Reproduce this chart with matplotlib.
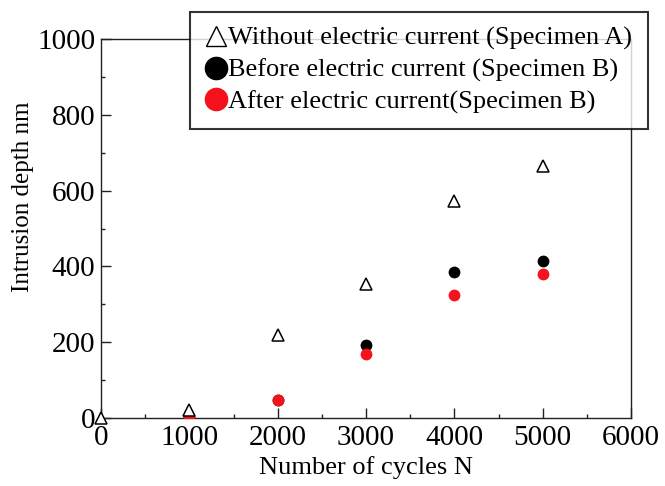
import matplotlib
matplotlib.use("Agg")
import matplotlib.pyplot as plt
from matplotlib.ticker import MultipleLocator
from matplotlib.lines import Line2D

plt.rcParams['font.family'] = ['Liberation Serif', 'DejaVu Serif']

# Data
cycles_a = [0, 1000, 2000, 3000, 4000, 5000]
depth_a = [0, 21, 218, 354, 572, 664]          # Without electric current (Specimen A)
cycles_b = [1000, 2000, 3000, 4000, 5000]
depth_before = [3, 47, 192, 385, 414]          # Before electric current (Specimen B)
depth_after = [3, 47, 170, 325, 381]           # After electric current (Specimen B)

labels = ["Without electric current (Specimen A)",
          "Before electric current (Specimen B)",
          "After electric current(Specimen B)"]
red = '#f5121c'

fig = plt.figure(figsize=(6.65, 4.86), dpi=100)
ax = fig.add_axes([101/665, 1-418/486, 530/665, 379/486])

ax.plot(cycles_b, depth_before, 'o', color='black', ms=8.5, mec='none', zorder=3)
ax.plot(cycles_b, depth_after, 'o', color=red, ms=8.5, mec='none', zorder=4)
ax.plot(cycles_a, depth_a, '^', mfc='white', mec='black', mew=1.1, ms=8, zorder=5, clip_on=False)

ax.set_xlim(0, 6000)
ax.set_ylim(0, 1000)
ax.xaxis.set_major_locator(MultipleLocator(1000))
ax.xaxis.set_minor_locator(MultipleLocator(500))
ax.yaxis.set_major_locator(MultipleLocator(200))
ax.yaxis.set_minor_locator(MultipleLocator(100))
ax.tick_params(which='both', direction='in', top=False, right=False,
               labelsize=21, width=1.0, color='#222222')
ax.tick_params(axis='x', which='major', length=7, pad=5)
ax.tick_params(axis='y', which='major', length=7, pad=4)
ax.tick_params(which='minor', length=3.2)
for s in ax.spines.values():
    s.set_linewidth(1.0)
    s.set_color('#222222')

ax.set_xlabel("Number of cycles N", fontsize=19, labelpad=4)
ax.set_ylabel("Intrusion depth nm", fontsize=18, va='center')
ax.yaxis.set_label_coords(-0.148, 0.585)

handles = [Line2D([], [], ls='none', marker='^', mfc='white', mec='black', mew=1.0, ms=15),
           Line2D([], [], ls='none', marker='o', color='black', ms=16),
           Line2D([], [], ls='none', marker='o', color=red, ms=16)]
leg = ax.legend(handles, labels, loc='upper left',
                bbox_to_anchor=(190/665, 1-129/486, 458/665, 117/486),
                bbox_transform=fig.transFigure, mode='expand',
                fontsize=19, frameon=True, fancybox=False, borderaxespad=0,
                handlelength=0.85, handletextpad=0.05, borderpad=0.55,
                labelspacing=0.3)
leg.get_frame().set_edgecolor('black')
leg.get_frame().set_linewidth(1.5)
leg.set_zorder(10)

fig.savefig("out.png", dpi=100)
